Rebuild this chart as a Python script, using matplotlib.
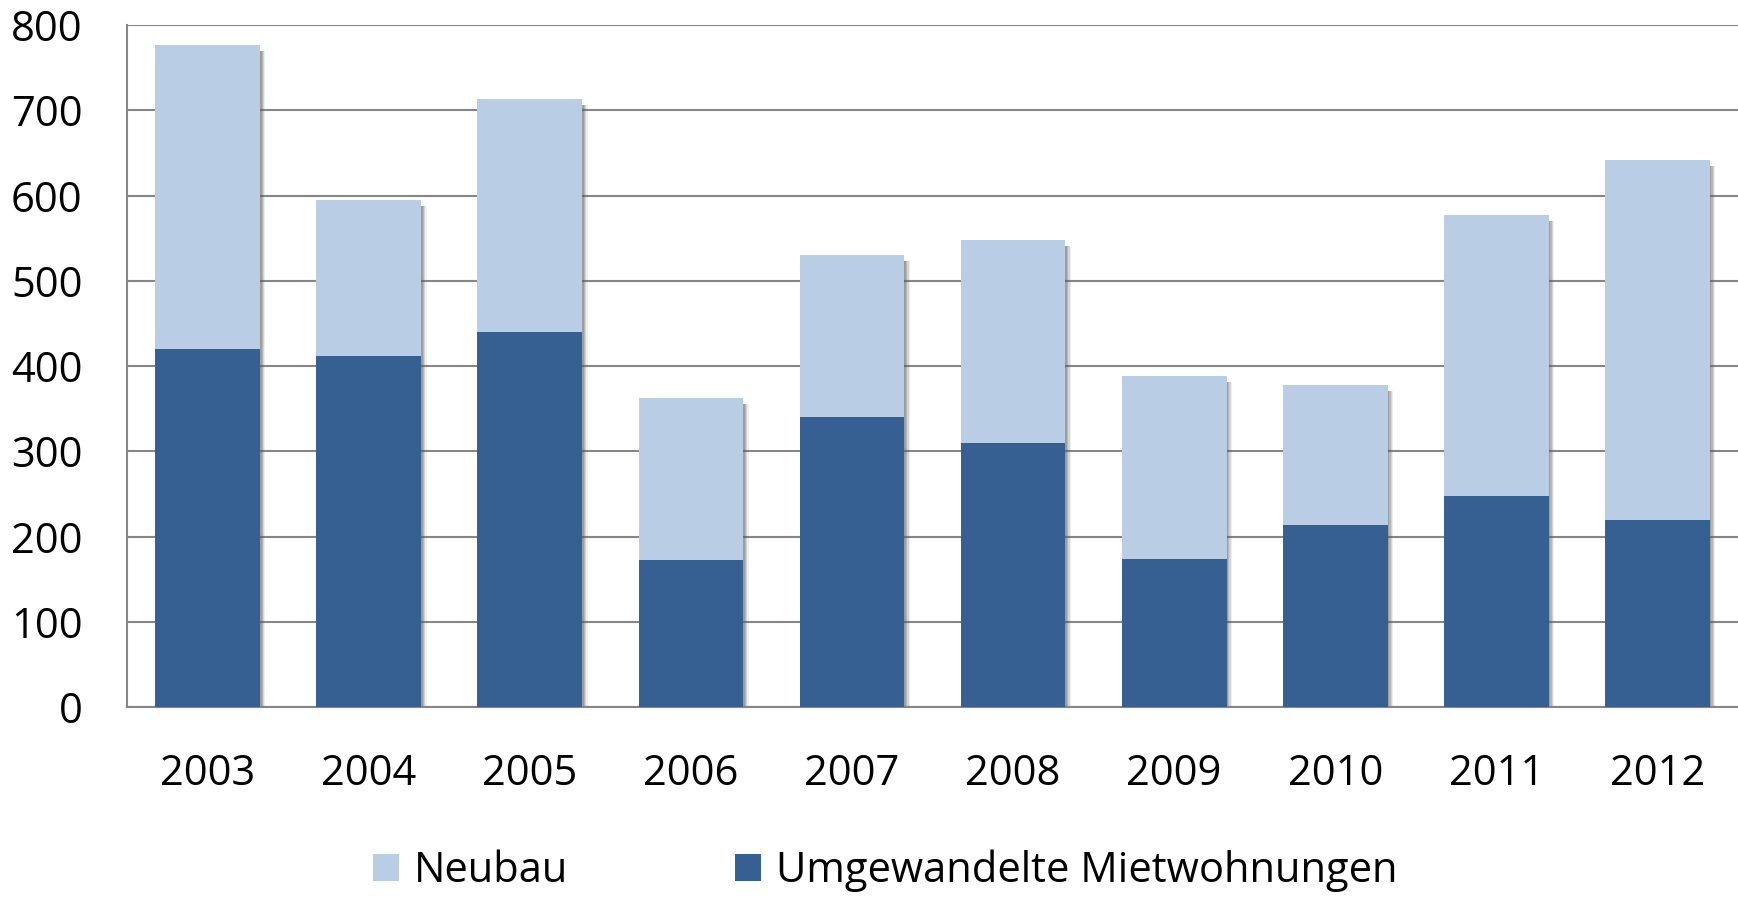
import matplotlib.pyplot as plt
import numpy as np

years = ["2003", "2004", "2005", "2006", "2007", "2008", "2009", "2010", "2011", "2012"]
umgewandelt = [420, 412, 440, 173, 340, 310, 174, 214, 248, 219]
gesamt = [777, 595, 713, 362, 530, 548, 388, 378, 577, 642]
neubau = [g - u for g, u in zip(gesamt, umgewandelt)]

c_neubau = "#B9CDE5"
c_umgew = "#376092"

plt.rcParams['font.family'] = ['Open Sans', 'DejaVu Sans']
plt.rcParams['font.size'] = 30

fig = plt.figure(figsize=(17.38, 8.97), dpi=100)
ax = fig.add_axes([0.0731, 0.2118, 0.9269, 0.7603])

x = np.arange(len(years))
w = 0.65

# soft shadow on the right of each bar
for dx, a in [(0.010, 0.30), (0.018, 0.25), (0.026, 0.18), (0.034, 0.10)]:
    ax.bar(x + dx, np.array(gesamt) - 7, width=w, color="#606060", alpha=a,
           linewidth=0, zorder=2)

ax.bar(x, umgewandelt, width=w, color=c_umgew, label="Umgewandelte Mietwohnungen",
       linewidth=0, zorder=3)
ax.bar(x, neubau, width=w, bottom=umgewandelt, color=c_neubau, label="Neubau",
       linewidth=0, zorder=3)

ax.set_xlim(-0.5, len(years) - 0.5)
ax.set_ylim(0, 800)
ax.set_yticks(range(0, 801, 100))
ax.set_xticks(x)
ax.set_xticklabels(years)
ax.yaxis.grid(True, color="#868686", linewidth=1.5, zorder=1)
ax.set_axisbelow(True)
for s in ["top", "right"]:
    ax.spines[s].set_visible(False)
for s in ["left", "bottom"]:
    ax.spines[s].set_color("#868686")
    ax.spines[s].set_linewidth(1.5)
ax.tick_params(axis="y", length=0, pad=32)
ax.tick_params(axis="x", length=0, pad=33)

h, l = ax.get_legend_handles_labels()
fig.legend(h[::-1], l[::-1], loc="center", bbox_to_anchor=(885 / 1738, 1 - 871 / 897),
           ncol=2, frameon=False, handlelength=0.63, handleheight=0.63,
           handletextpad=0.35, columnspacing=4.0, borderaxespad=0)

plt.savefig("out.png", dpi=100)
